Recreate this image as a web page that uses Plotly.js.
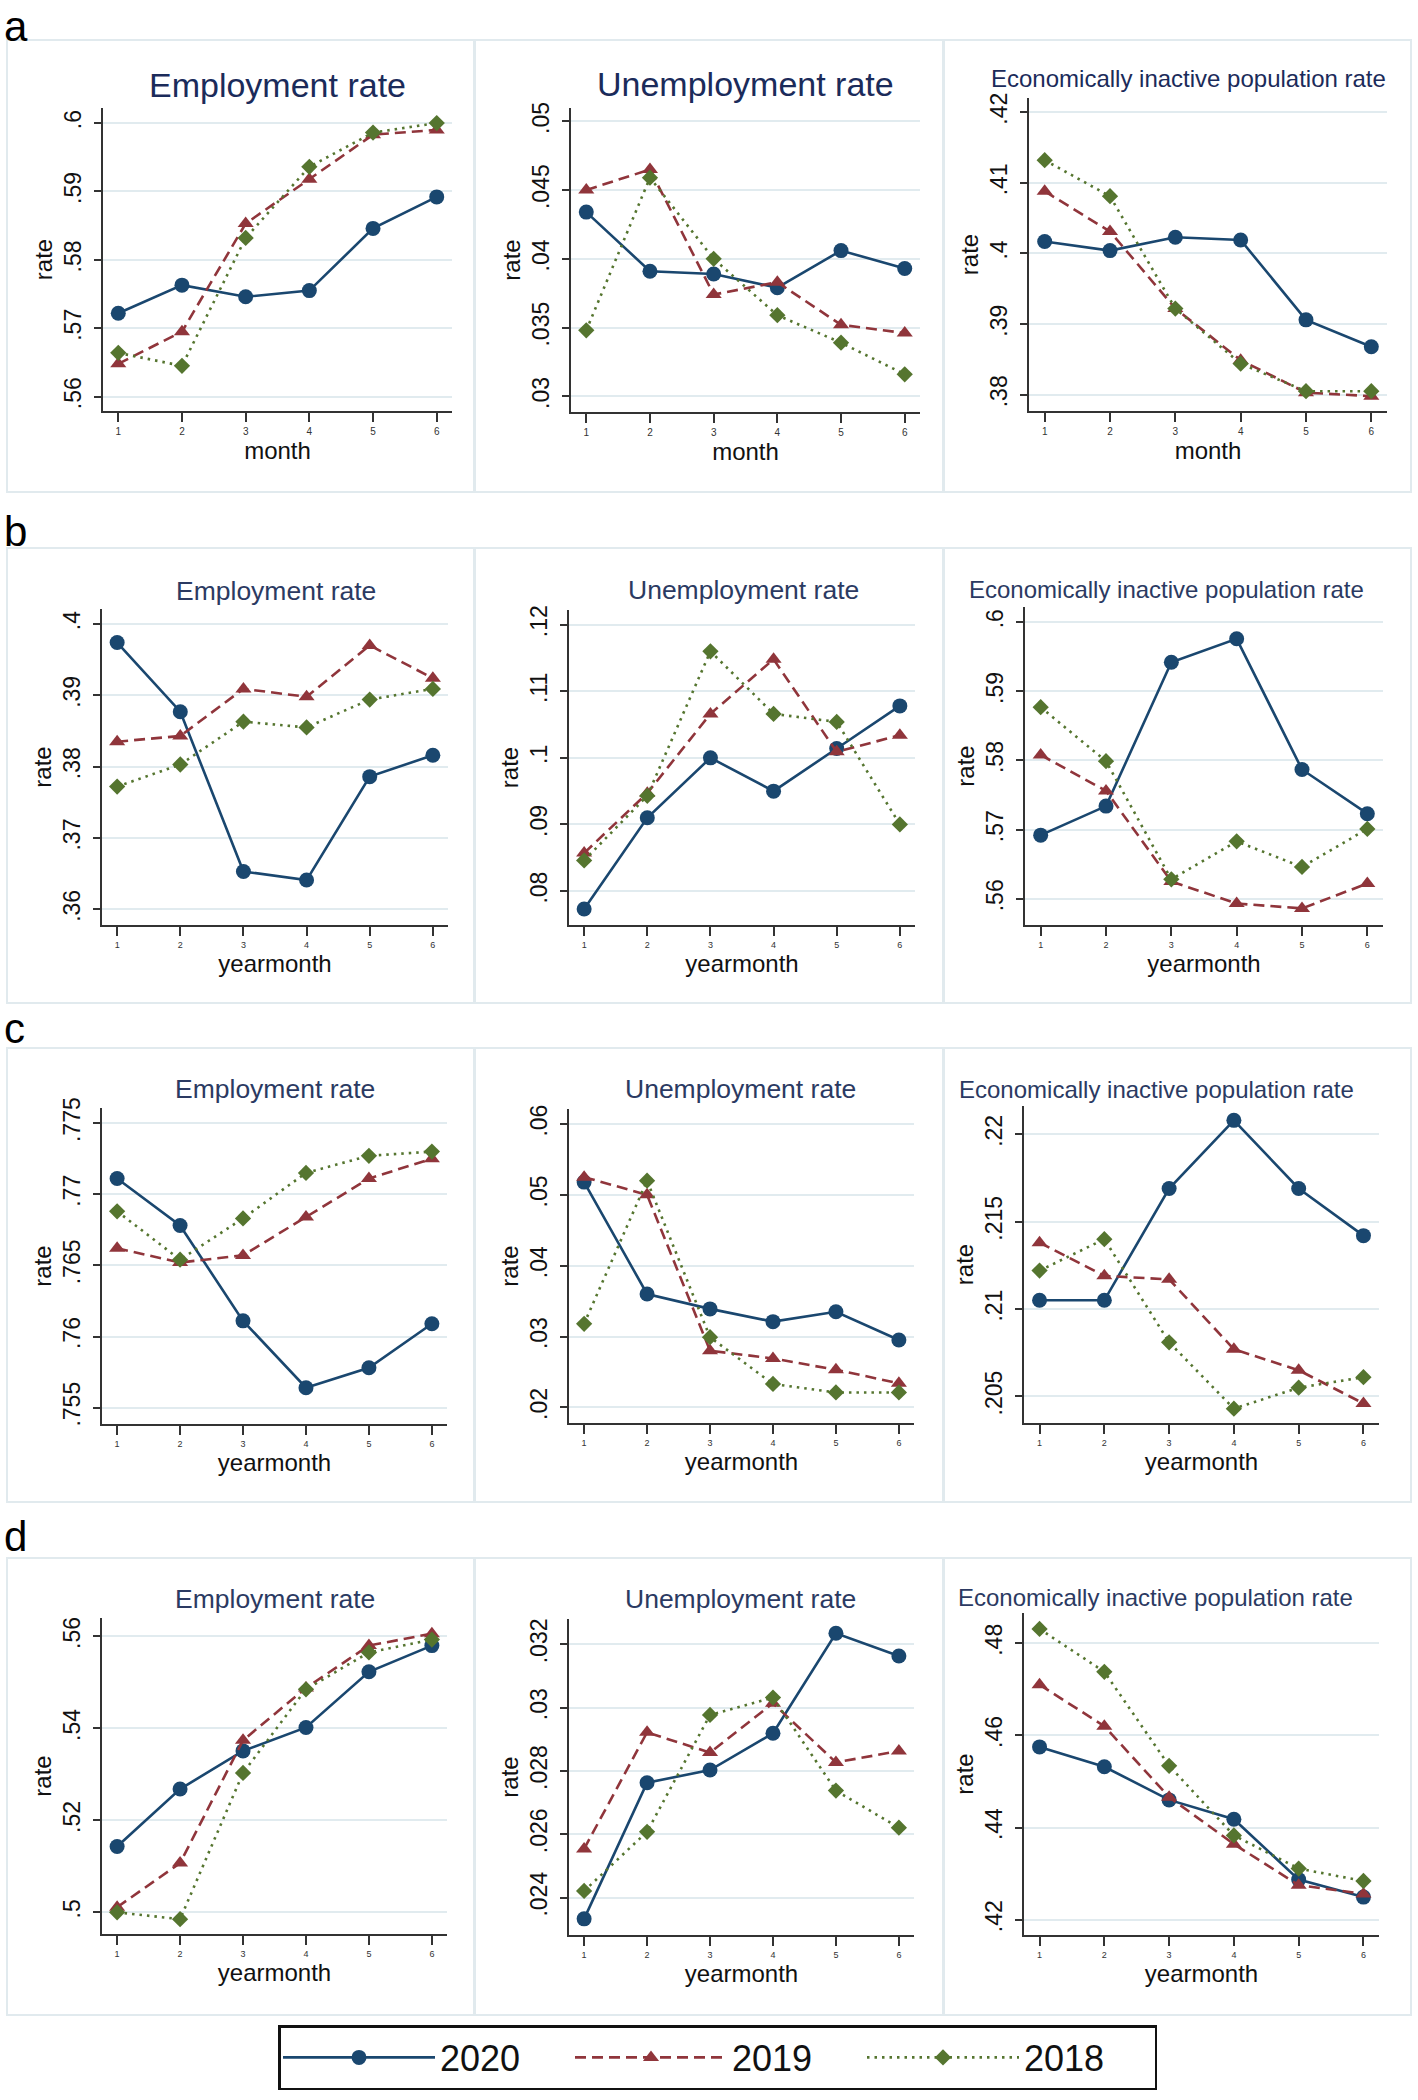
<!DOCTYPE html>
<html>
<head>
<meta charset="utf-8">
<script src="https://cdn.plot.ly/plotly-3.0.1.min.js"></script>
<style>
  html, body { margin: 0; padding: 0; background: #ffffff; }
  #chart { width: 1418px; height: 2100px; }
</style>
</head>
<body>
<div id="chart"></div>
<script>
// ---------------- DATA ----------------
const months = [1, 2, 3, 4, 5, 6];
const monthLabels = ['1', '2', '3', '4', '5', '6'];
const years = ['2020', '2019', '2018'];
const panelLetters = ['a', 'b', 'c', 'd'];
const panelTitles = ['Employment rate', 'Unemployment rate', 'Economically inactive population rate'];
const rowXTitles = ['month', 'yearmonth', 'yearmonth', 'yearmonth'];

// Row a
const a_emp_2020 = [0.5722, 0.5763, 0.5746, 0.5755, 0.5846, 0.5892];
const a_emp_2019 = [0.5648, 0.5695, 0.5853, 0.5918, 0.5983, 0.5990];
const a_emp_2018 = [0.5664, 0.5645, 0.5832, 0.5936, 0.5986, 0.6000];
const a_unemp_2020 = [0.0434, 0.0391, 0.0389, 0.0379, 0.0406, 0.0393];
const a_unemp_2019 = [0.0450, 0.0465, 0.0374, 0.0383, 0.0352, 0.0346];
const a_unemp_2018 = [0.0348, 0.0459, 0.0400, 0.0359, 0.0339, 0.0316];
const a_inact_2020 = [0.4017, 0.4004, 0.4023, 0.4019, 0.3906, 0.3868];
const a_inact_2019 = [0.4088, 0.4031, 0.3922, 0.3849, 0.3803, 0.3798];
const a_inact_2018 = [0.4132, 0.4081, 0.3922, 0.3844, 0.3805, 0.3805];

// Row b
const b_emp_2020 = [0.3974, 0.3877, 0.3653, 0.3641, 0.3786, 0.3816];
const b_emp_2019 = [0.3835, 0.3843, 0.3909, 0.3898, 0.3970, 0.3924];
const b_emp_2018 = [0.3772, 0.3803, 0.3863, 0.3855, 0.3894, 0.3909];
const b_unemp_2020 = [0.0773, 0.0910, 0.1000, 0.0950, 0.1014, 0.1078];
const b_unemp_2019 = [0.0857, 0.0947, 0.1066, 0.1148, 0.1009, 0.1034];
const b_unemp_2018 = [0.0846, 0.0943, 0.1160, 0.1066, 0.1054, 0.0900];
const b_inact_2020 = [0.5692, 0.5734, 0.5942, 0.5976, 0.5787, 0.5723];
const b_inact_2019 = [0.5808, 0.5756, 0.5625, 0.5593, 0.5586, 0.5622];
const b_inact_2018 = [0.5877, 0.5799, 0.5628, 0.5683, 0.5646, 0.5701];

// Row c
const c_emp_2020 = [0.7711, 0.7678, 0.7611, 0.7564, 0.7578, 0.7609];
const c_emp_2019 = [0.7662, 0.7652, 0.7657, 0.7684, 0.7711, 0.7725];
const c_emp_2018 = [0.7688, 0.7654, 0.7683, 0.7715, 0.7727, 0.7730];
const c_unemp_2020 = [0.0518, 0.0360, 0.0339, 0.0321, 0.0335, 0.0295];
const c_unemp_2019 = [0.0525, 0.0500, 0.0280, 0.0269, 0.0253, 0.0234];
const c_unemp_2018 = [0.0318, 0.0520, 0.0299, 0.0233, 0.0221, 0.0221];
const c_inact_2020 = [0.2105, 0.2105, 0.2169, 0.2208, 0.2169, 0.2142];
const c_inact_2019 = [0.2138, 0.2119, 0.2117, 0.2077, 0.2065, 0.2046];
const c_inact_2018 = [0.2122, 0.2140, 0.2081, 0.2043, 0.2055, 0.2061];

// Row d
const d_emp_2020 = [0.5143, 0.5268, 0.5351, 0.5402, 0.5523, 0.5580];
const d_emp_2019 = [0.5011, 0.5107, 0.5374, 0.5488, 0.5580, 0.5606];
const d_emp_2018 = [0.5000, 0.4985, 0.5303, 0.5485, 0.5565, 0.5593];
const d_unemp_2020 = [0.02333, 0.02763, 0.02803, 0.02919, 0.03235, 0.03163];
const d_unemp_2019 = [0.02554, 0.02922, 0.02858, 0.03014, 0.02827, 0.02863];
const d_unemp_2018 = [0.02421, 0.02608, 0.02977, 0.03032, 0.02738, 0.02621];
const d_inact_2020 = [0.4575, 0.4532, 0.4460, 0.4418, 0.4287, 0.4249];
const d_inact_2019 = [0.4710, 0.4620, 0.4466, 0.4364, 0.4275, 0.4256];
const d_inact_2018 = [0.4831, 0.4738, 0.4534, 0.4383, 0.4311, 0.4284];

// Y tick values and labels
const a_emp_ticks = [0.56, 0.57, 0.58, 0.59, 0.60];
const a_emp_labels = ['.56', '.57', '.58', '.59', '.6'];
const a_unemp_ticks = [0.030, 0.035, 0.040, 0.045, 0.050];
const a_unemp_labels = ['.03', '.035', '.04', '.045', '.05'];
const a_inact_ticks = [0.38, 0.39, 0.40, 0.41, 0.42];
const a_inact_labels = ['.38', '.39', '.4', '.41', '.42'];
const b_emp_ticks = [0.36, 0.37, 0.38, 0.39, 0.40];
const b_emp_labels = ['.36', '.37', '.38', '.39', '.4'];
const b_unemp_ticks = [0.08, 0.09, 0.10, 0.11, 0.12];
const b_unemp_labels = ['.08', '.09', '.1', '.11', '.12'];
const b_inact_ticks = [0.56, 0.57, 0.58, 0.59, 0.60];
const b_inact_labels = ['.56', '.57', '.58', '.59', '.6'];
const c_emp_ticks = [0.755, 0.760, 0.765, 0.770, 0.775];
const c_emp_labels = ['.755', '.76', '.765', '.77', '.775'];
const c_unemp_ticks = [0.02, 0.03, 0.04, 0.05, 0.06];
const c_unemp_labels = ['.02', '.03', '.04', '.05', '.06'];
const c_inact_ticks = [0.205, 0.210, 0.215, 0.220];
const c_inact_labels = ['.205', '.21', '.215', '.22'];
const d_emp_ticks = [0.50, 0.52, 0.54, 0.56];
const d_emp_labels = ['.5', '.52', '.54', '.56'];
const d_unemp_ticks = [0.024, 0.026, 0.028, 0.030, 0.032];
const d_unemp_labels = ['.024', '.026', '.028', '.03', '.032'];
const d_inact_ticks = [0.42, 0.44, 0.46, 0.48];
const d_inact_labels = ['.42', '.44', '.46', '.48'];

// ---------------- LAYOUT CONFIG ----------------
const W = 1418, H = 2100;
const FONT = 'Liberation Sans, Arial, Helvetica, sans-serif';
const seriesStyle = [
  { color: '#1a476f', dash: 'solid', symbol: 'circle', size: 15, width: 2.6 },
  { color: '#90353b', dash: '11px,6px', symbol: 'triangle-up', size: 14, width: 2.6 },
  { color: '#55752f', dash: '2.5px,5px', symbol: 'diamond', size: 12.5, width: 2.6 }
];

const panels = [
  { row: 0, col: 0, series: [a_emp_2020, a_emp_2019, a_emp_2018], tv: a_emp_ticks, tt: a_emp_labels, yr: [0.5579, 0.6022], px: [103, 452], py: [108, 411], tx: 277, ty: 85, ts: 34 },
  { row: 0, col: 1, series: [a_unemp_2020, a_unemp_2019, a_unemp_2018], tv: a_unemp_ticks, tt: a_unemp_labels, yr: [0.02886, 0.05097], px: [571, 920], py: [108, 412], tx: 745, ty: 84, ts: 34 },
  { row: 0, col: 2, series: [a_inact_2020, a_inact_2019, a_inact_2018], tv: a_inact_ticks, tt: a_inact_labels, yr: [0.3777, 0.4220], px: [1029, 1387], py: [98, 411], tx: 1188, ty: 78, ts: 24 },
  { row: 1, col: 0, series: [b_emp_2020, b_emp_2019, b_emp_2018], tv: b_emp_ticks, tt: b_emp_labels, yr: [0.3578, 0.4021], px: [102, 448], py: [609, 925], tx: 276, ty: 591, ts: 26.5 },
  { row: 1, col: 1, series: [b_unemp_2020, b_unemp_2019, b_unemp_2018], tv: b_unemp_ticks, tt: b_unemp_labels, yr: [0.0749, 0.1222], px: [569, 915], py: [610, 925], tx: 743, ty: 590, ts: 26.5 },
  { row: 1, col: 2, series: [b_inact_2020, b_inact_2019, b_inact_2018], tv: b_inact_ticks, tt: b_inact_labels, yr: [0.5562, 0.6022], px: [1025, 1383], py: [607, 925], tx: 1166, ty: 589, ts: 24 },
  { row: 2, col: 0, series: [c_emp_2020, c_emp_2019, c_emp_2018], tv: c_emp_ticks, tt: c_emp_labels, yr: [0.75385, 0.77606], px: [102, 447], py: [1108, 1424], tx: 275, ty: 1089, ts: 26.5 },
  { row: 2, col: 1, series: [c_unemp_2020, c_unemp_2019, c_unemp_2018], tv: c_unemp_ticks, tt: c_unemp_labels, yr: [0.01779, 0.06212], px: [569, 914], py: [1109, 1423], tx: 740, ty: 1089, ts: 26.5 },
  { row: 2, col: 2, series: [c_inact_2020, c_inact_2019, c_inact_2018], tv: c_inact_ticks, tt: c_inact_labels, yr: [0.20348, 0.22162], px: [1024, 1379], py: [1106, 1423], tx: 1156, ty: 1089, ts: 24 },
  { row: 3, col: 0, series: [d_emp_2020, d_emp_2019, d_emp_2018], tv: d_emp_ticks, tt: d_emp_labels, yr: [0.49528, 0.5640], px: [102, 447], py: [1618, 1934], tx: 275, ty: 1599, ts: 26.5 },
  { row: 3, col: 1, series: [d_unemp_2020, d_unemp_2019, d_unemp_2018], tv: d_unemp_ticks, tt: d_unemp_labels, yr: [0.02282, 0.0328], px: [569, 914], py: [1619, 1935], tx: 740, ty: 1599, ts: 26.5 },
  { row: 3, col: 2, series: [d_inact_2020, d_inact_2019, d_inact_2018], tv: d_inact_ticks, tt: d_inact_labels, yr: [0.41668, 0.48656], px: [1024, 1379], py: [1613, 1935], tx: 1155, ty: 1597, ts: 24 }
];

const rowBoxes = [[40, 492], [548, 1003], [1048, 1502], [1558, 2015]];
const colBoxes = [[7, 474], [475, 943], [944, 1411]];
const letterPos = [26, 531, 1028, 1536];

const traces = [];
const layout = {
  width: W, height: H,
  margin: { l: 0, r: 0, t: 0, b: 0 },
  paper_bgcolor: '#ffffff', plot_bgcolor: '#ffffff',
  font: { family: FONT, color: '#111111' },
  showlegend: true,
  legend: {
    orientation: 'h',
    x: 278 / W, y: 1 - 2025 / H, xanchor: 'left', yanchor: 'top',
    bordercolor: '#111111', borderwidth: 2.5, bgcolor: '#ffffff',
    font: { family: FONT, size: 36, color: '#111111' },
    itemwidth: 152, entrywidth: 125, entrywidthmode: 'pixels',
    itemclick: false, itemdoubleclick: false
  },
  annotations: [],
  shapes: []
};

panels.forEach((p, i) => {
  const n = i + 1;
  const xid = 'x' + (n === 1 ? '' : n);
  const yid = 'y' + (n === 1 ? '' : n);
  const xname = 'xaxis' + (n === 1 ? '' : n);
  const yname = 'yaxis' + (n === 1 ? '' : n);

  p.series.forEach((vals, j) => {
    const s = seriesStyle[j];
    traces.push({
      type: 'scatter', mode: 'lines+markers',
      x: months, y: vals, xaxis: xid, yaxis: yid,
      name: years[j], legendgroup: years[j], showlegend: i === 0,
      line: { color: s.color, width: s.width, dash: s.dash },
      marker: { symbol: s.symbol, size: s.size, color: s.color, line: { width: 0 } },
      cliponaxis: false, hoverinfo: 'skip'
    });
  });

  const rowA = p.row === 0;
  layout[xname] = {
    domain: [p.px[0] / W, p.px[1] / W], anchor: yid,
    range: [0.76, 6.24], tickmode: 'array', tickvals: months, ticktext: monthLabels,
    showline: true, linecolor: '#333333', linewidth: 2,
    ticks: 'outside', ticklen: 9, tickwidth: 2, tickcolor: '#333333',
    showgrid: false, zeroline: false,
    tickfont: { family: FONT, size: rowA ? 10 : 9, color: '#333333' },
    ticklabelstandoff: 1,
    title: { text: rowXTitles[p.row], font: { family: FONT, size: 24, color: '#111111' }, standoff: 0 },
    fixedrange: true
  };
  layout[yname] = {
    domain: [1 - p.py[1] / H, 1 - p.py[0] / H], anchor: xid,
    range: p.yr, tickmode: 'array', tickvals: p.tv, ticktext: p.tt, tickangle: -90,
    showline: true, linecolor: '#333333', linewidth: 2,
    ticks: 'outside', ticklen: 7, tickwidth: 2, tickcolor: '#333333',
    showgrid: true, gridcolor: '#e1ebef', gridwidth: 2, zeroline: false,
    tickfont: { family: FONT, size: 23, color: '#111111' },
    ticklabelstandoff: 4,
    title: { text: 'rate', font: { family: FONT, size: 24, color: '#111111' }, standoff: 0 },
    fixedrange: true
  };

  layout.annotations.push({
    xref: 'paper', yref: 'paper', x: p.tx / W, y: 1 - p.ty / H,
    xanchor: 'center', yanchor: 'middle', showarrow: false,
    text: panelTitles[p.col],
    font: { family: FONT, size: p.ts, color: rowA ? '#1b2b5a' : '#2b3a62' }
  });

  layout.shapes.push({
    type: 'rect', xref: 'paper', yref: 'paper', layer: 'below',
    x0: colBoxes[p.col][0] / W, x1: colBoxes[p.col][1] / W,
    y0: 1 - rowBoxes[p.row][1] / H, y1: 1 - rowBoxes[p.row][0] / H,
    line: { color: '#e1eaee', width: 2 }, fillcolor: 'rgba(0,0,0,0)'
  });
});

panelLetters.forEach((L, r) => {
  layout.annotations.push({
    xref: 'paper', yref: 'paper', x: 2 / W, y: 1 - letterPos[r] / H,
    xanchor: 'left', yanchor: 'middle', showarrow: false,
    text: L, font: { family: FONT, size: 42, color: '#000000' }
  });
});

Plotly.newPlot('chart', traces, layout, { staticPlot: true, displayModeBar: false });
</script>
</body>
</html>
